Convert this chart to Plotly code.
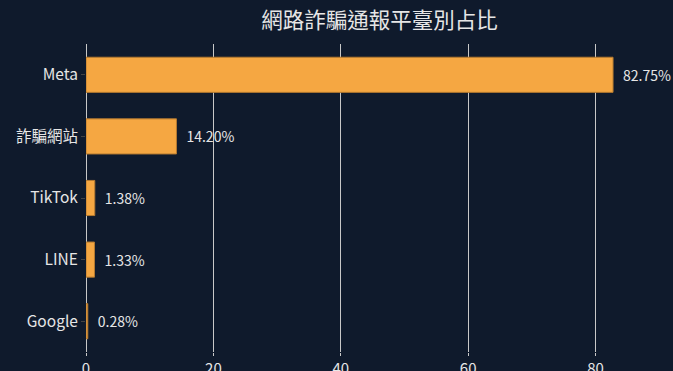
import plotly.graph_objects as go

platforms = ["Meta", "詐騙網站", "TikTok", "LINE", "Google"]
shares = [82.75, 14.20, 1.38, 1.33, 0.28]
labels = ["82.75%", "14.20%", "1.38%", "1.33%", "0.28%"]
title_text = "網路詐騙通報平臺別占比"

FONT = "Noto Sans CJK TC"
BG = "#0f1a2c"
TXT = "#e6e6e6"

fig = go.Figure(go.Bar(
    x=shares, y=platforms, orientation="h",
    text=labels, texttemplate="\u2002%{text}", textposition="outside", cliponaxis=False,
    textfont=dict(color=TXT, size=14, family=FONT),
    marker=dict(color="#f5a742", line=dict(color="#b57a30", width=1)),
))

fig.update_layout(
    width=673, height=371,
    paper_bgcolor=BG, plot_bgcolor=BG,
    margin=dict(l=86, r=52, t=44, b=19, autoexpand=False),
    bargap=0.43,
    showlegend=False,
    title=dict(text=title_text, x=0.564, xanchor="center", y=0.945, yref="container",
               yanchor="middle",
               font=dict(family=FONT, size=21.5, color=TXT)),
    font=dict(family=FONT, color=TXT, size=15),
    xaxis=dict(range=[0, 84], tickvals=[0, 20, 40, 60, 80], showgrid=True,
               gridcolor="#c8c8c8", gridwidth=1, zeroline=True, zerolinecolor="#c8c8c8",
               zerolinewidth=1, layer="above traces", ticks="outside", ticklen=3,
               tickcolor="#c8c8c8", showline=False, automargin=False,
               tickfont=dict(size=15, color=TXT, family=FONT)),
    yaxis=dict(categoryorder="array", categoryarray=platforms[::-1], autorange=True,
               ticks="outside", ticklen=4, tickcolor="#444", showgrid=False,
               automargin=False,
               tickfont=dict(size=15.5, color=TXT, family=FONT)),
)

fig.write_html("out.html")
